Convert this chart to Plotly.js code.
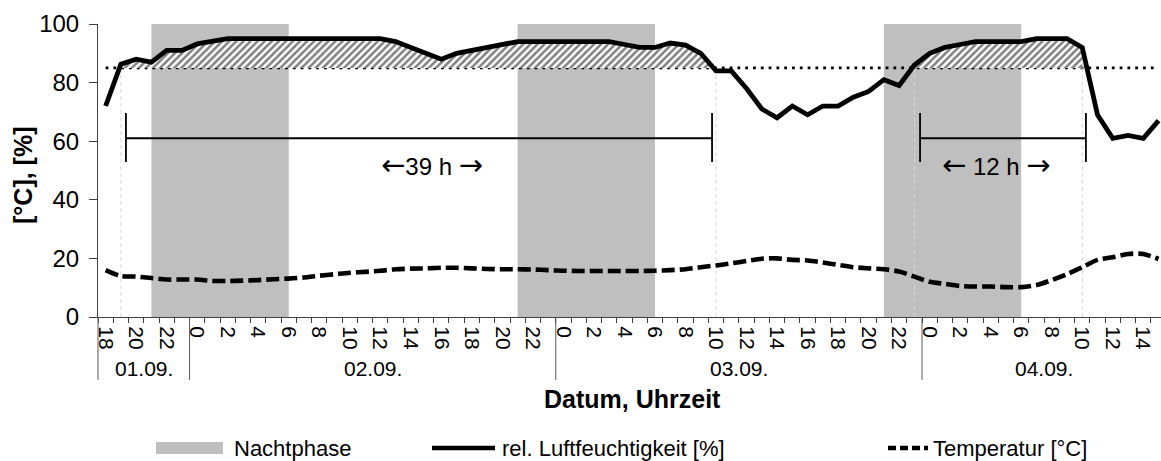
<!DOCTYPE html>
<html><head><meta charset="utf-8">
<script src="https://cdn.plot.ly/plotly-3.0.1.min.js"></script>
<style>html,body{margin:0;padding:0;background:#fff;overflow:hidden}#chart{width:1161px;height:461px}</style>
</head><body><div id="chart"></div>
<script>
// ---- data ----
const dayLabels = ['01.09.', '02.09.', '03.09.', '04.09.'];
const hours = [18,19,20,21,22,23,
  0,1,2,3,4,5,6,7,8,9,10,11,12,13,14,15,16,17,18,19,20,21,22,23,
  0,1,2,3,4,5,6,7,8,9,10,11,12,13,14,15,16,17,18,19,20,21,22,23,
  0,1,2,3,4,5,6,7,8,9,10,11,12,13,14,15];
const relHumidity = [72,86.3,88,87,91,91,93.2,94.3,95,95,95,95,95,95,95,95,95,95,95,94,92,90,88,90,
  91,92,93,94,94,94,94,94,94,94,93,92,92,93.5,92.8,90,84,84,78,71,68,72,69,72,72,75,77,81,79,86,
  90,92,93,94,94,94,94,95,95,95,92,69,61,62,61,67];
const temperature = [16,14,13.8,13.3,12.8,12.8,12.8,12.3,12.3,12.4,12.6,12.9,13.1,13.5,14.1,14.6,15.1,15.4,15.8,16.3,
  16.5,16.6,16.8,16.8,16.6,16.4,16.3,16.3,16.2,16,15.8,15.7,15.7,15.7,15.7,15.7,15.8,16,16.3,17,
  17.6,18.3,19.1,19.9,20,19.5,19.3,18.6,17.8,17,16.6,16.3,15.5,13.8,12,11.3,10.6,10.4,10.4,10.2,
  10.2,10.9,12.6,14.6,17,19.5,20.4,21.5,21.5,19.8];
const threshold = 85;
const nightFrom = ['01.09. 21', '02.09. 21', '03.09. 21'];
const nightTo   = ['02.09. 6',  '03.09. 6',  '04.09. 6'];
const wetFrom = ['01.09. 19', '03.09. 23'];
const wetTo   = ['03.09. 10', '04.09. 10'];
const spanHours = ['39 h', '12 h'];
const legendLabels = ['Nachtphase', 'rel. Luftfeuchtigkeit [%]', 'Temperatur [°C]'];

// ---- derived ----
const idx = hours.map((h, i) => i);
const dayOf = []; let d = 0;
hours.forEach((h, i) => { if (i > 0 && h === 0) d++; dayOf.push(d); });
const keys = hours.map((h, i) => dayLabels[dayOf[i]] + ' ' + h);
const at = k => keys.indexOf(k);

const FONT = 'Liberation Sans, Arial, sans-serif';
const X0 = -0.5, X1 = 69.16;
const L = 98, T = 24, PW = 1063, PH = 293;
const pxX = px => (px - L) / PW;
const pxY = py => (T + PH - py) / PH;
const dataToPaperX = v => (v - X0) / (X1 - X0);

const traces = [];
// night phases
nightFrom.forEach((f, k) => {
  const s = at(f), e = at(nightTo[k]);
  traces.push({x: [s, s, e, e], y: [0, 100, 100, 0], fill: 'toself', fillcolor: '#bfbfbf',
    mode: 'none', hoverinfo: 'skip', showlegend: false});
});
// threshold dotted line
traces.push({x: idx, y: idx.map(() => threshold), mode: 'lines',
  line: {color: '#000', width: 2.8, dash: '2.8px,5px'}, hoverinfo: 'skip', showlegend: false});
// drop lines
wetFrom.forEach((f, k) => {
  [at(f), at(wetTo[k])].forEach(p => {
    traces.push({x: [p, p], y: [0, threshold], mode: 'lines',
      line: {color: '#d9d9d9', width: 1, dash: '4px,3px'}, hoverinfo: 'skip', showlegend: false});
  });
});
// hatched areas (humidity above threshold)
wetFrom.forEach((f, k) => {
  const s = at(f), e = at(wetTo[k]);
  const xs = idx.slice(s, e + 1);
  const top = xs.map(i => Math.max(relHumidity[i], threshold));
  const xr = xs.slice().reverse();
  traces.push({x: xs.concat(xr), y: top.concat(xr.map(() => threshold)), mode: 'lines',
    line: {width: 0, color: 'rgba(0,0,0,0)'}, fill: 'toself', fillcolor: '#ffffff',
    fillpattern: {shape: '/', fgcolor: '#808080', bgcolor: '#ffffff', size: 5, solidity: 0.5},
    hoverinfo: 'skip', showlegend: false});
});
// temperature
traces.push({x: idx, y: temperature, mode: 'lines', name: legendLabels[2],
  line: {color: '#000', width: 4.6, dash: '13px,5px', shape: 'spline', smoothing: 0.8}, showlegend: false});
// humidity
traces.push({x: idx, y: relHumidity, mode: 'lines', name: legendLabels[1],
  line: {color: '#000', width: 4.8}, showlegend: false});

// ticks
const tickvals = idx.filter(i => hours[i] % 2 === 0);
const ticktext = tickvals.map(i => String(hours[i]));

// day separators + labels
const shapes = [];
const annotations = [];
const dayStarts = dayLabels.map((_, k) => dayOf.indexOf(k));
dayLabels.forEach((lab, k) => {
  const b0 = dayStarts[k] - 0.5;
  const b1 = (k + 1 < dayLabels.length ? dayStarts[k + 1] : hours.length) - 0.5;
  shapes.push({type: 'line', xref: 'paper', yref: 'paper', x0: dataToPaperX(b0), x1: dataToPaperX(b0),
    y0: 0, y1: pxY(380), line: {color: '#595959', width: 1}});
  annotations.push({text: lab, x: (b0 + b1) / 2, xref: 'x', y: pxY(368), yref: 'paper',
    showarrow: false, xanchor: 'center', yanchor: 'middle', font: {size: 21, family: FONT, color: '#000'}});
});

// duration brackets
const ARW = s => '<span style="font-family:DejaVu Sans;font-size:29px">' + s + '</span>';
const spanText = [ARW('←') + spanHours[0] + ' ' + ARW('→'), ARW('←') + ' ' + spanHours[1] + ' ' + ARW('→')];
const spanX = [[1.33, 39.74], [53.37, 64.24]];
const spanTextX = [21.39, 58.35];
spanX.forEach((sp, k) => {
  shapes.push({type: 'line', xref: 'x', yref: 'y', x0: sp[0], x1: sp[1], y0: 61, y1: 61, line: {color: '#000', width: 1.8}});
  sp.forEach(v => shapes.push({type: 'line', xref: 'x', yref: 'y', x0: v, x1: v, y0: 52.9, y1: 69.6, line: {color: '#000', width: 1.8}}));
  annotations.push({text: spanText[k], x: spanTextX[k], xref: 'x', y: (317 - 165) / 2.93, yref: 'y',
    showarrow: false, xanchor: 'center', yanchor: 'middle', font: {size: 24, family: FONT, color: '#000'}});
});

// axis titles
annotations.push({text: '<b>Datum, Uhrzeit</b>', x: pxX(632), y: pxY(399), xref: 'paper', yref: 'paper',
  showarrow: false, xanchor: 'center', yanchor: 'middle', font: {size: 25, family: FONT, color: '#000'}});
annotations.push({text: '<b>[°C], [%]</b>', x: pxX(23), y: pxY(176), xref: 'paper', yref: 'paper', textangle: -90,
  showarrow: false, xanchor: 'center', yanchor: 'middle', font: {size: 25, family: FONT, color: '#000'}});

// custom legend
const LY = 448;
shapes.push({type: 'rect', xref: 'paper', yref: 'paper', x0: pxX(156), x1: pxX(223), y0: pxY(LY - 6), y1: pxY(LY + 6),
  fillcolor: '#bfbfbf', line: {width: 0}});
shapes.push({type: 'line', xref: 'paper', yref: 'paper', x0: pxX(432), x1: pxX(495), y0: pxY(LY), y1: pxY(LY),
  line: {color: '#000', width: 4.5}});
shapes.push({type: 'line', xref: 'paper', yref: 'paper', x0: pxX(888), x1: pxX(928), y0: pxY(LY), y1: pxY(LY),
  line: {color: '#000', width: 4.5, dash: '8px,4px'}});
[[232, 0], [500, 1], [931, 2]].forEach(([px, k]) => {
  annotations.push({text: legendLabels[k], x: pxX(px), y: pxY(LY), xref: 'paper', yref: 'paper',
    showarrow: false, xanchor: 'left', yanchor: 'middle', font: {size: 22, family: FONT, color: '#000'}});
});

const layout = {
  width: 1161, height: 461,
  margin: {l: L, r: 0, t: T, b: 461 - T - PH, pad: 0},
  paper_bgcolor: '#fff', plot_bgcolor: '#fff',
  font: {family: FONT, color: '#000'},
  showlegend: false,
  xaxis: {type: 'linear', range: [X0, X1], showgrid: false, zeroline: false, showline: true,
    linecolor: '#404040', linewidth: 1, tickmode: 'array', tickvals: tickvals, ticktext: ticktext,
    ticks: '', tickangle: 90, tickfont: {size: 21, family: FONT, color: '#000'}, ticklabelstandoff: 4,
    minor: {tickmode: 'linear', tick0: -0.5, dtick: 1, ticks: 'outside', ticklen: 5, tickcolor: '#404040', showgrid: false},
    automargin: false, fixedrange: true},
  yaxis: {range: [0, 100], tickmode: 'array', tickvals: [0, 20, 40, 60, 80, 100], showgrid: false, zeroline: false,
    showline: true, linecolor: '#404040', linewidth: 1, ticks: 'outside', ticklen: 8, tickcolor: '#404040',
    tickfont: {size: 24, family: FONT, color: '#000'}, ticklabelstandoff: 5, automargin: false, fixedrange: true},
  shapes: shapes,
  annotations: annotations
};

Plotly.newPlot('chart', traces, layout, {displayModeBar: false, staticPlot: true});
</script>
</body></html>
